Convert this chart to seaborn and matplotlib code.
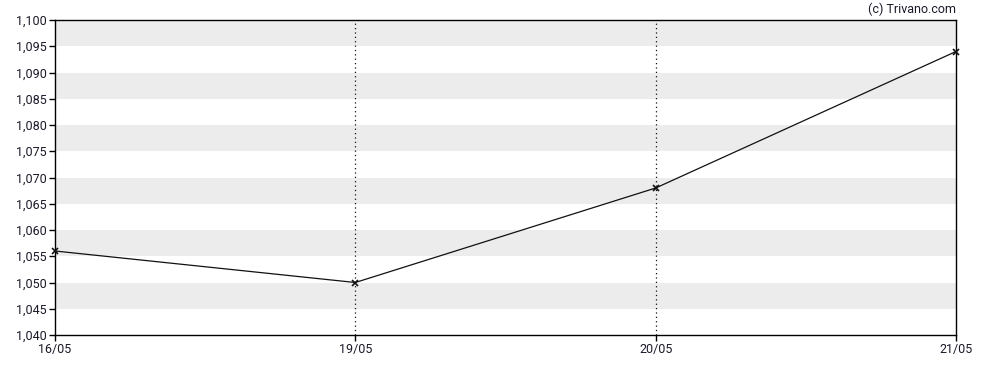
import matplotlib
matplotlib.use("Agg")
import matplotlib.pyplot as plt
import seaborn as sns
import pandas as pd
from matplotlib.ticker import FuncFormatter, MultipleLocator

dates = ["16/05", "19/05", "20/05", "21/05"]
values = [1.056, 1.050, 1.068, 1.094]
y_min, y_max, y_step = 1.040, 1.100, 0.005

sns.set_style("white")
plt.rcParams['font.family'] = ['Roboto', 'DejaVu Sans']

fig = plt.figure(figsize=(9.88, 3.70), dpi=100)
ax = fig.add_axes([55/988, 35/370, 901/988, 315/370])

df = pd.DataFrame({"date": dates, "value": values})

# alternating bands
n = int(round((y_max - y_min) / y_step))
for i in range(n):
    lo = y_min + i * y_step
    if i % 2 == 1:
        ax.axhspan(lo, lo + y_step, color="#ececec", lw=0, zorder=0)

sns.lineplot(data=df, x="date", y="value", ax=ax, color="#111111", lw=0.9,
             marker="x", markersize=4, markeredgewidth=1.2, markeredgecolor="#111111",
             zorder=3, clip_on=False)

for i in range(1, len(dates) - 1):
    ax.axvline(i, color="#111111", lw=0.9, ls=(0, (1, 2.5)), zorder=2)

ax.set_xlim(0, len(dates) - 1)
ax.set_ylim(y_min, y_max)
ax.yaxis.set_major_locator(MultipleLocator(y_step))
ax.yaxis.set_major_formatter(FuncFormatter(lambda v, p: f"{v:.3f}".replace(".", ",")))
ax.set_xlabel("")
ax.set_ylabel("")

for s in ax.spines.values():
    s.set_color("#000000")
    s.set_linewidth(1.0)
    s.set_visible(True)

ax.tick_params(axis="both", which="major", direction="out", length=4, width=1,
               color="#000000", labelcolor="#1a1a2a", labelsize=9, pad=2, left=True, bottom=True)

fig.text(956/988, 1 - 9/370, "(c) Trivano.com", ha="right", va="center",
         fontsize=9, color="#1a1a2a")

fig.savefig("out.png", dpi=100)
